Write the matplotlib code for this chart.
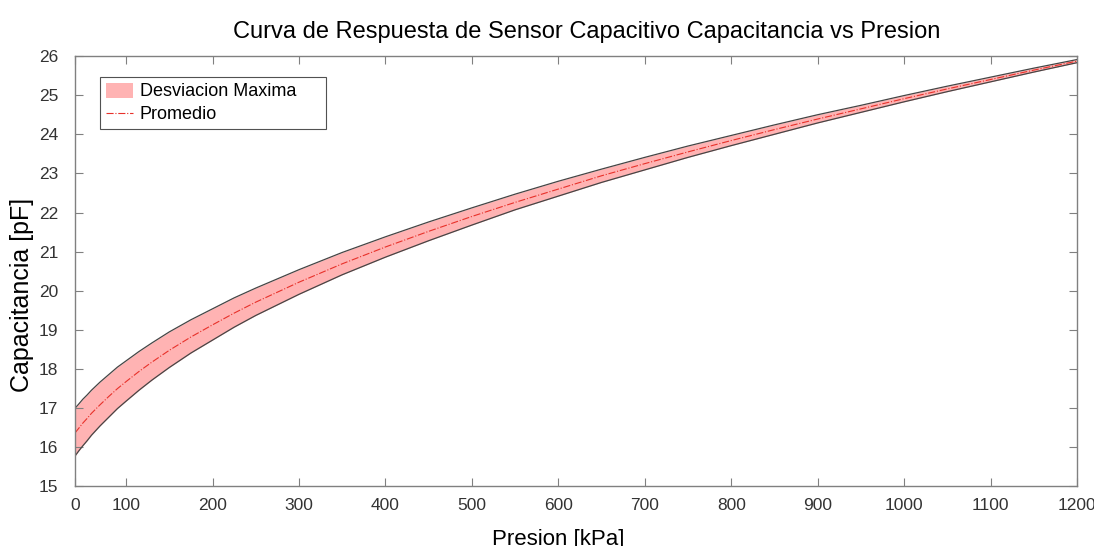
import matplotlib
matplotlib.use('Agg')
import matplotlib.pyplot as plt
from matplotlib.patches import Patch
from matplotlib.lines import Line2D

plt.rcParams['font.family'] = ['Liberation Sans', 'DejaVu Sans']

# pressure samples [kPa] and capacitance readings [pF]
presion = [41, 45, 50, 55, 60, 70, 80, 90, 100, 115, 130, 150, 175, 200,
           225, 250, 300, 350, 400, 450, 500, 550, 600, 650, 700, 750, 800,
           850, 900, 950, 1000, 1050, 1100, 1150, 1200]
cap_max = [17.00, 17.10, 17.23, 17.34, 17.46, 17.67, 17.86, 18.05, 18.21,
           18.45, 18.67, 18.95, 19.26, 19.54, 19.82, 20.07, 20.54, 20.98,
           21.38, 21.76, 22.12, 22.47, 22.80, 23.11, 23.41, 23.70, 23.97,
           24.24, 24.50, 24.74, 24.99, 25.23, 25.46, 25.69, 25.91]
cap_min = [15.78, 15.90, 16.04, 16.17, 16.31, 16.55, 16.77, 16.99, 17.18,
           17.46, 17.72, 18.04, 18.41, 18.74, 19.07, 19.37, 19.91, 20.41,
           20.86, 21.28, 21.68, 22.07, 22.42, 22.77, 23.09, 23.41, 23.71,
           24.00, 24.29, 24.56, 24.83, 25.09, 25.34, 25.59, 25.83]
cap_prom = [16.37, 16.48, 16.62, 16.74, 16.87, 17.09, 17.30, 17.50, 17.68,
            17.94, 18.18, 18.48, 18.82, 19.13, 19.43, 19.71, 20.22, 20.69,
            21.12, 21.52, 21.90, 22.26, 22.60, 22.94, 23.25, 23.55, 23.84,
            24.12, 24.39, 24.65, 24.91, 25.16, 25.40, 25.64, 25.87]

xtick_pos = [41, 100, 200, 300, 400, 500, 600, 700, 800, 900, 1000, 1100, 1200]
xtick_lbl = ['0', '100', '200', '300', '400', '500', '600', '700', '800',
             '900', '1000', '1100', '1200']
ytick_pos = list(range(15, 27))

fill_color = '#ffb3b3'
edge_color = '#454545'
mean_color = '#e8312a'
axis_color = '#808080'
text_color = '#333333'

fig = plt.figure(figsize=(10.94, 5.46), dpi=100)
ax = fig.add_axes([0.0686, 0.109, 0.9159, 0.7884])

ax.fill_between(presion, cap_min, cap_max, color=fill_color, lw=0)
ax.plot(presion, cap_max, color=edge_color, lw=0.9)
ax.plot(presion, cap_min, color=edge_color, lw=0.9)
ax.plot(presion, cap_prom, color=mean_color, lw=0.8, ls='-.')

ax.set_xlim(41, 1200)
ax.set_ylim(15, 26)
ax.set_xticks(xtick_pos)
ax.set_xticklabels(xtick_lbl)
ax.set_yticks(ytick_pos)

for s in ax.spines.values():
    s.set_color(axis_color)
    s.set_linewidth(1.0)
ax.tick_params(direction='in', length=6, width=0.8, color=axis_color,
               labelcolor=text_color, labelsize=12.5, top=True, right=True)
ax.tick_params(axis='x', pad=8.5)
ax.tick_params(axis='y', pad=12)

ax.set_xlabel('Presion [kPa]', fontsize=16, color='black')
ax.xaxis.set_label_coords(0.482, -0.099)
ax.set_ylabel('Capacitancia [pF]', fontsize=18, color='black')
ax.yaxis.set_label_coords(-0.041, 0.444)
ax.set_title('Curva de Respuesta de Sensor Capacitivo Capacitancia vs Presion',
             fontsize=17, color='black', pad=13, x=0.511)

handles = [Patch(facecolor=fill_color, edgecolor='none'),
           Line2D([], [], color=mean_color, lw=0.8, ls='-.')]
leg = ax.legend(handles, ['Desviacion Maxima', 'Promedio'],
                loc='upper left', bbox_to_anchor=(0.025, 0.829, 0.2255, 0.122),
                mode='expand', fontsize=13, frameon=True, fancybox=False,
                handlelength=1.5, handleheight=0.9, handletextpad=0.4,
                borderpad=0.3, labelspacing=0.3, borderaxespad=0)
leg.get_frame().set_edgecolor('#262626')
leg.get_frame().set_linewidth(0.8)

fig.savefig('out.png', dpi=100)
